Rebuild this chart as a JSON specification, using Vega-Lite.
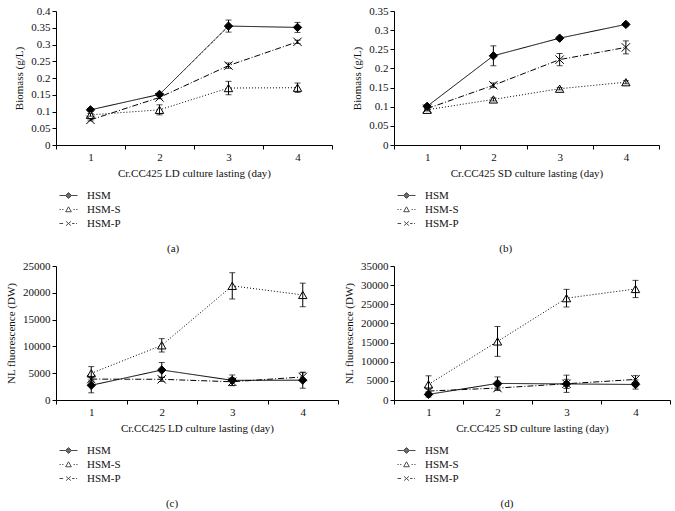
{
  "$schema": "https://vega.github.io/schema/vega-lite/v6.json",
  "background": "white",
  "padding": {"left": 5, "top": 5, "right": 5, "bottom": 5},
  "data": {"values": [
    {"panel": "a", "day": "1", "series": "HSM", "value": 0.105, "err": 0.004},
    {"panel": "a", "day": "2", "series": "HSM", "value": 0.151, "err": 0.004},
    {"panel": "a", "day": "3", "series": "HSM", "value": 0.355, "err": 0.018},
    {"panel": "a", "day": "4", "series": "HSM", "value": 0.351, "err": 0.015},
    {"panel": "a", "day": "1", "series": "HSM-S", "value": 0.09, "err": 0.004},
    {"panel": "a", "day": "2", "series": "HSM-S", "value": 0.105, "err": 0.015},
    {"panel": "a", "day": "3", "series": "HSM-S", "value": 0.17, "err": 0.02},
    {"panel": "a", "day": "4", "series": "HSM-S", "value": 0.171, "err": 0.014},
    {"panel": "a", "day": "1", "series": "HSM-P", "value": 0.075, "err": 0.003},
    {"panel": "a", "day": "2", "series": "HSM-P", "value": 0.142, "err": 0.004},
    {"panel": "a", "day": "3", "series": "HSM-P", "value": 0.237, "err": 0.008},
    {"panel": "a", "day": "4", "series": "HSM-P", "value": 0.308, "err": 0.005},
    {"panel": "b", "day": "1", "series": "HSM", "value": 0.101, "err": 0.004},
    {"panel": "b", "day": "2", "series": "HSM", "value": 0.233, "err": 0.026},
    {"panel": "b", "day": "3", "series": "HSM", "value": 0.279, "err": 0.004},
    {"panel": "b", "day": "4", "series": "HSM", "value": 0.315, "err": 0.004},
    {"panel": "b", "day": "1", "series": "HSM-S", "value": 0.092, "err": 0.003},
    {"panel": "b", "day": "2", "series": "HSM-S", "value": 0.119, "err": 0.004},
    {"panel": "b", "day": "3", "series": "HSM-S", "value": 0.147, "err": 0.003},
    {"panel": "b", "day": "4", "series": "HSM-S", "value": 0.164, "err": 0.004},
    {"panel": "b", "day": "1", "series": "HSM-P", "value": 0.095, "err": 0.003},
    {"panel": "b", "day": "2", "series": "HSM-P", "value": 0.156, "err": 0.006},
    {"panel": "b", "day": "3", "series": "HSM-P", "value": 0.223, "err": 0.016},
    {"panel": "b", "day": "4", "series": "HSM-P", "value": 0.255, "err": 0.017},
    {"panel": "c", "day": "1", "series": "HSM", "value": 2740, "err": 1400},
    {"panel": "c", "day": "2", "series": "HSM", "value": 5600, "err": 1400},
    {"panel": "c", "day": "3", "series": "HSM", "value": 3670, "err": 1000},
    {"panel": "c", "day": "4", "series": "HSM", "value": 3700, "err": 1500},
    {"panel": "c", "day": "1", "series": "HSM-S", "value": 4980, "err": 1250},
    {"panel": "c", "day": "2", "series": "HSM-S", "value": 10200, "err": 1250},
    {"panel": "c", "day": "3", "series": "HSM-S", "value": 21300, "err": 2450},
    {"panel": "c", "day": "4", "series": "HSM-S", "value": 19600, "err": 2200},
    {"panel": "c", "day": "1", "series": "HSM-P", "value": 3900, "err": 500},
    {"panel": "c", "day": "2", "series": "HSM-P", "value": 3860, "err": 400},
    {"panel": "c", "day": "3", "series": "HSM-P", "value": 3400, "err": 700},
    {"panel": "c", "day": "4", "series": "HSM-P", "value": 4300, "err": 800},
    {"panel": "d", "day": "1", "series": "HSM", "value": 1470, "err": 700},
    {"panel": "d", "day": "2", "series": "HSM", "value": 4330, "err": 1700},
    {"panel": "d", "day": "3", "series": "HSM", "value": 4200, "err": 1200},
    {"panel": "d", "day": "4", "series": "HSM", "value": 4050, "err": 1200},
    {"panel": "d", "day": "1", "series": "HSM-S", "value": 4070, "err": 2250},
    {"panel": "d", "day": "2", "series": "HSM-S", "value": 15300, "err": 3900},
    {"panel": "d", "day": "3", "series": "HSM-S", "value": 26600, "err": 2300},
    {"panel": "d", "day": "4", "series": "HSM-S", "value": 29000, "err": 2250},
    {"panel": "d", "day": "1", "series": "HSM-P", "value": 2340, "err": 500},
    {"panel": "d", "day": "2", "series": "HSM-P", "value": 3120, "err": 600},
    {"panel": "d", "day": "3", "series": "HSM-P", "value": 4240, "err": 2250},
    {"panel": "d", "day": "4", "series": "HSM-P", "value": 5370, "err": 1000}
  ]},
  "columns": 2,
  "spacing": {"row": 6, "column": 4},
  "concat": [
    {
      "width": 276, "height": 134,
      "transform": [{"filter": "datum.panel == 'a'"}],
      "title": {"text": "(a)"},
      "encoding": {
        "x": {"field": "day", "type": "ordinal", "scale": {"type": "band", "paddingInner": 0, "paddingOuter": 0}, "axis": {"title": "Cr.CC425 LD culture lasting (day)", "tickBand": "extent", "labelAngle": 0}},
        "y": {"field": "value", "type": "quantitative", "scale": {"domain": [0, 0.4], "nice": false, "zero": true}, "axis": {"title": "Biomass (g/L)", "values": [0, 0.05, 0.1, 0.15, 0.2, 0.25, 0.3, 0.35, 0.4], "format": ".2~f"}}
      },
      "layer": [
        {"mark": {"type": "line", "color": "black", "strokeWidth": 1}, "encoding": {"detail": {"field": "series"}, "strokeDash": {"field": "series", "type": "nominal", "scale": {"domain": ["HSM", "HSM-S", "HSM-P"], "range": [[1, 0], [1, 2], [6, 2, 1, 2]]}, "legend": null}}},
        {"mark": {"type": "point", "filled": true, "stroke": "black", "strokeWidth": 1, "size": 70, "opacity": 1}, "encoding": {"shape": {"field": "series", "type": "nominal", "scale": {"domain": ["HSM", "HSM-S", "HSM-P"], "range": ["diamond", "triangle-up", "M-1,-1L1,1M-1,1L1,-1"]}, "legend": null}, "fill": {"field": "series", "type": "nominal", "scale": {"domain": ["HSM", "HSM-S", "HSM-P"], "range": ["black", "white", "white"]}, "legend": null}}},
        {"mark": {"type": "errorbar", "ticks": {"size": 6}, "color": "black"}, "encoding": {"yError": {"field": "err"}}},
        {"transform": [{"filter": "false"}], "mark": {"type": "point", "filled": false, "color": "black", "strokeWidth": 1}, "encoding": {"shape": {"field": "series", "type": "nominal", "scale": {"domain": ["HSM", "HSM-S", "HSM-P"], "range": ["M-3,0H-0.9M0.9,0H3M0,-1L1,0L0,1L-1,0ZM0,-0.75L0.75,0L0,0.75L-0.75,0ZM0,-0.5L0.5,0L0,0.5L-0.5,0ZM0,-0.25L0.25,0L0,0.25L-0.25,0ZM-0.1,0H0.1", "M-3,0H-2.6M-2.1,0H-1.7M0,-0.9L0.95,0.75L-0.95,0.75ZM1.7,0H2.1M2.6,0H3", "M-3,0H-1.8M-0.8,-0.7L0.8,0.7M-0.8,0.7L0.8,-0.7M1.2,0H2M2.5,0H2.8"]}, "legend": {"orient": "none", "legendX": 1, "legendY": 179, "title": null}}}}
      ],
      "resolve": {"scale": {"shape": "independent"}}
    },
    {
      "width": 265, "height": 134,
      "transform": [{"filter": "datum.panel == 'b'"}],
      "title": {"text": "(b)"},
      "encoding": {
        "x": {"field": "day", "type": "ordinal", "scale": {"type": "band", "paddingInner": 0, "paddingOuter": 0}, "axis": {"title": "Cr.CC425 SD culture lasting (day)", "tickBand": "extent", "labelAngle": 0}},
        "y": {"field": "value", "type": "quantitative", "scale": {"domain": [0, 0.35], "nice": false, "zero": true}, "axis": {"title": "Biomass (g/L)", "values": [0, 0.05, 0.1, 0.15, 0.2, 0.25, 0.3, 0.35], "format": ".2~f"}}
      },
      "layer": [
        {"mark": {"type": "line", "color": "black", "strokeWidth": 1}, "encoding": {"detail": {"field": "series"}, "strokeDash": {"field": "series", "type": "nominal", "scale": {"domain": ["HSM", "HSM-S", "HSM-P"], "range": [[1, 0], [1, 2], [6, 2, 1, 2]]}, "legend": null}}},
        {"mark": {"type": "point", "filled": true, "stroke": "black", "strokeWidth": 1, "size": 70, "opacity": 1}, "encoding": {"shape": {"field": "series", "type": "nominal", "scale": {"domain": ["HSM", "HSM-S", "HSM-P"], "range": ["diamond", "triangle-up", "M-1,-1L1,1M-1,1L1,-1"]}, "legend": null}, "fill": {"field": "series", "type": "nominal", "scale": {"domain": ["HSM", "HSM-S", "HSM-P"], "range": ["black", "white", "white"]}, "legend": null}}},
        {"mark": {"type": "errorbar", "ticks": {"size": 6}, "color": "black"}, "encoding": {"yError": {"field": "err"}}},
        {"transform": [{"filter": "false"}], "mark": {"type": "point", "filled": false, "color": "black", "strokeWidth": 1}, "encoding": {"shape": {"field": "series", "type": "nominal", "scale": {"domain": ["HSM", "HSM-S", "HSM-P"], "range": ["M-3,0H-0.9M0.9,0H3M0,-1L1,0L0,1L-1,0ZM0,-0.75L0.75,0L0,0.75L-0.75,0ZM0,-0.5L0.5,0L0,0.5L-0.5,0ZM0,-0.25L0.25,0L0,0.25L-0.25,0ZM-0.1,0H0.1", "M-3,0H-2.6M-2.1,0H-1.7M0,-0.9L0.95,0.75L-0.95,0.75ZM1.7,0H2.1M2.6,0H3", "M-3,0H-1.8M-0.8,-0.7L0.8,0.7M-0.8,0.7L0.8,-0.7M1.2,0H2M2.5,0H2.8"]}, "legend": {"orient": "none", "legendX": 1, "legendY": 179, "title": null}}}}
      ],
      "resolve": {"scale": {"shape": "independent"}}
    },
    {
      "width": 282, "height": 134,
      "transform": [{"filter": "datum.panel == 'c'"}],
      "title": {"text": "(c)"},
      "encoding": {
        "x": {"field": "day", "type": "ordinal", "scale": {"type": "band", "paddingInner": 0, "paddingOuter": 0}, "axis": {"title": "Cr.CC425 LD culture lasting (day)", "tickBand": "extent", "labelAngle": 0}},
        "y": {"field": "value", "type": "quantitative", "scale": {"domain": [0, 25000], "nice": false, "zero": true}, "axis": {"title": "NL fluorescence (DW)", "values": [0, 5000, 10000, 15000, 20000, 25000], "format": "d"}}
      },
      "layer": [
        {"mark": {"type": "line", "color": "black", "strokeWidth": 1}, "encoding": {"detail": {"field": "series"}, "strokeDash": {"field": "series", "type": "nominal", "scale": {"domain": ["HSM", "HSM-S", "HSM-P"], "range": [[1, 0], [1, 2], [6, 2, 1, 2]]}, "legend": null}}},
        {"mark": {"type": "point", "filled": true, "stroke": "black", "strokeWidth": 1, "size": 70, "opacity": 1}, "encoding": {"shape": {"field": "series", "type": "nominal", "scale": {"domain": ["HSM", "HSM-S", "HSM-P"], "range": ["diamond", "triangle-up", "M-1,-1L1,1M-1,1L1,-1"]}, "legend": null}, "fill": {"field": "series", "type": "nominal", "scale": {"domain": ["HSM", "HSM-S", "HSM-P"], "range": ["black", "white", "white"]}, "legend": null}}},
        {"mark": {"type": "errorbar", "ticks": {"size": 6}, "color": "black"}, "encoding": {"yError": {"field": "err"}}},
        {"transform": [{"filter": "false"}], "mark": {"type": "point", "filled": false, "color": "black", "strokeWidth": 1}, "encoding": {"shape": {"field": "series", "type": "nominal", "scale": {"domain": ["HSM", "HSM-S", "HSM-P"], "range": ["M-3,0H-0.9M0.9,0H3M0,-1L1,0L0,1L-1,0ZM0,-0.75L0.75,0L0,0.75L-0.75,0ZM0,-0.5L0.5,0L0,0.5L-0.5,0ZM0,-0.25L0.25,0L0,0.25L-0.25,0ZM-0.1,0H0.1", "M-3,0H-2.6M-2.1,0H-1.7M0,-0.9L0.95,0.75L-0.95,0.75ZM1.7,0H2.1M2.6,0H3", "M-3,0H-1.8M-0.8,-0.7L0.8,0.7M-0.8,0.7L0.8,-0.7M1.2,0H2M2.5,0H2.8"]}, "legend": {"orient": "none", "legendX": 1, "legendY": 179, "title": null}}}}
      ],
      "resolve": {"scale": {"shape": "independent"}}
    },
    {
      "width": 276, "height": 134,
      "transform": [{"filter": "datum.panel == 'd'"}],
      "title": {"text": "(d)"},
      "encoding": {
        "x": {"field": "day", "type": "ordinal", "scale": {"type": "band", "paddingInner": 0, "paddingOuter": 0}, "axis": {"title": "Cr.CC425 SD culture lasting (day)", "tickBand": "extent", "labelAngle": 0}},
        "y": {"field": "value", "type": "quantitative", "scale": {"domain": [0, 35000], "nice": false, "zero": true}, "axis": {"title": "NL fluorescence (DW)", "values": [0, 5000, 10000, 15000, 20000, 25000, 30000, 35000], "format": "d"}}
      },
      "layer": [
        {"mark": {"type": "line", "color": "black", "strokeWidth": 1}, "encoding": {"detail": {"field": "series"}, "strokeDash": {"field": "series", "type": "nominal", "scale": {"domain": ["HSM", "HSM-S", "HSM-P"], "range": [[1, 0], [1, 2], [6, 2, 1, 2]]}, "legend": null}}},
        {"mark": {"type": "point", "filled": true, "stroke": "black", "strokeWidth": 1, "size": 70, "opacity": 1}, "encoding": {"shape": {"field": "series", "type": "nominal", "scale": {"domain": ["HSM", "HSM-S", "HSM-P"], "range": ["diamond", "triangle-up", "M-1,-1L1,1M-1,1L1,-1"]}, "legend": null}, "fill": {"field": "series", "type": "nominal", "scale": {"domain": ["HSM", "HSM-S", "HSM-P"], "range": ["black", "white", "white"]}, "legend": null}}},
        {"mark": {"type": "errorbar", "ticks": {"size": 6}, "color": "black"}, "encoding": {"yError": {"field": "err"}}},
        {"transform": [{"filter": "false"}], "mark": {"type": "point", "filled": false, "color": "black", "strokeWidth": 1}, "encoding": {"shape": {"field": "series", "type": "nominal", "scale": {"domain": ["HSM", "HSM-S", "HSM-P"], "range": ["M-3,0H-0.9M0.9,0H3M0,-1L1,0L0,1L-1,0ZM0,-0.75L0.75,0L0,0.75L-0.75,0ZM0,-0.5L0.5,0L0,0.5L-0.5,0ZM0,-0.25L0.25,0L0,0.25L-0.25,0ZM-0.1,0H0.1", "M-3,0H-2.6M-2.1,0H-1.7M0,-0.9L0.95,0.75L-0.95,0.75ZM1.7,0H2.1M2.6,0H3", "M-3,0H-1.8M-0.8,-0.7L0.8,0.7M-0.8,0.7L0.8,-0.7M1.2,0H2M2.5,0H2.8"]}, "legend": {"orient": "none", "legendX": 1, "legendY": 179, "title": null}}}}
      ],
      "resolve": {"scale": {"shape": "independent"}}
    }
  ],
  "config": {
    "view": {"stroke": null},
    "font": "Liberation Serif",
    "axis": {"labelFont": "Liberation Serif", "titleFont": "Liberation Serif", "labelFontSize": 11, "titleFontSize": 11, "titleFontWeight": "normal", "labelColor": "#111", "titleColor": "#111", "domainColor": "black", "tickColor": "black", "grid": false, "tickSize": 4, "labelPadding": 2, "domainWidth": 1, "tickWidth": 1},
    "axisY": {"titlePadding": 6},
    "axisX": {"titlePadding": 5},
    "legend": {"labelFont": "Liberation Serif", "labelFontSize": 11, "labelColor": "#111", "symbolSize": 36, "symbolOffset": 6, "labelOffset": 13, "rowPadding": 2, "padding": 0, "symbolStrokeWidth": 1, "symbolStrokeColor": "black"},
    "title": {"orient": "bottom", "anchor": "middle", "frame": "bounds", "font": "Liberation Serif", "fontSize": 11, "fontWeight": "normal", "color": "#111", "offset": 14}
  }
}
